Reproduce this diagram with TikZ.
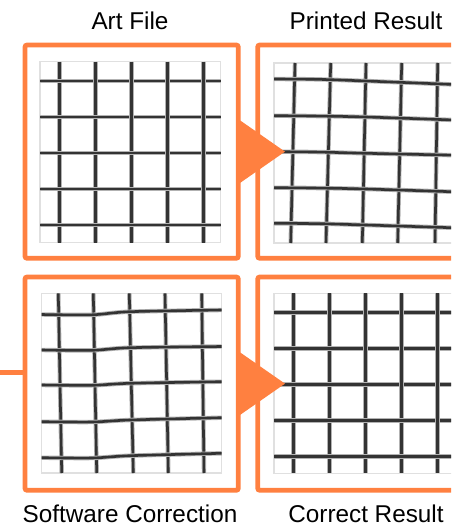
\documentclass[tikz,border=0pt]{standalone}
\usepackage{fontspec}
\setmainfont{Liberation Sans}
\usetikzlibrary{calc}
\definecolor{printorange}{RGB}{255,128,64}
\begin{document}
\begin{tikzpicture}[x=1pt, y=-1pt, font=\fontsize{24.3}{29}\selectfont,
    frame/.style={draw=printorange, line width=4.7pt, rounded corners=2pt,
      minimum width=213.3pt, minimum height=213.3pt, inner sep=0pt, outer sep=0pt},
    sheet/.style={draw=black!12, line width=1.5pt},
    gridline/.style={draw=black!80, line width=2.6pt, line cap=butt,
      preaction={draw=black!30, line width=4.4pt}},
    caption/.style={anchor=base, inner sep=0pt}]
  \useasboundingbox (0,0) rectangle (451,529);
  \clip (0,0) rectangle (451,529);
  % frames and captions
  \node[frame] (art) at (131.65,151.65) {};
  \node[frame] (printed) at (364.35,151.65) {};
  \node[frame] (soft) at (131.65,383.65) {};
  \node[frame] (correct) at (364.35,383.65) {};
  \node[caption] (artlbl) at (130,30) {Art File};
  \node[caption] (printedlbl) at (366,30) {Printed Result};
  \node[caption] (softlbl) at (130,522.3) {Software Correction};
  \node[caption] (correctlbl) at (366,522.3) {Correct Result};
  % grey sheets
  \draw[sheet] (40,61.7) rectangle (220.7,242.7) (274,63) rectangle (454,243)
    (41.7,293.3) rectangle (221.7,473) (274,293.3) rectangle (454,473.3);
  % art file: straight grid
  \foreach \k in {0,...,4} {
    \draw[gridline] (59.3+36*\k,61.7) -- (59.3+36*\k,242.7);
    \draw[gridline] (40,81+36*\k) -- (220.7,81+36*\k);
  }
  % printed result: warped grid
  \foreach \t/\b in {295/290.7, 330.7/326, 366/362.3, 401.7/397.7, 437.7/435}
    \draw[gridline] (\t,63) -- (\b,243);
  \foreach \l/\m/\r in {79/81/84.5, 115.7/117/120, 151.7/153.3/155.2, 187.7/189/191.8, 223.3/225/227.8}
    \draw[gridline] plot[smooth] coordinates {(274,\l) (320,\l+0.4) (366,\m) (454,\r)};
  % software correction: pre-warped grid
  \foreach \t/\b in {58.3/61.7, 93.3/96.7, 129.3/133.3, 165/168.3, 201.7/204}
    \draw[gridline] (\t,293.3) -- (\b,473);
  \foreach \l/\m/\r in {314.5/311.7/310, 350/347.7/346.5, 385/383.3/381.7, 421.7/420/417.7, 457.7/455.7/453.3}
    \draw[gridline] plot[smooth] coordinates {(41.7,\l) (92,\l+0.3) (130,\m) (221.7,\r)};
  % correct result: straight grid
  \foreach \k in {0,...,4} {
    \draw[gridline] (293.3+36*\k,293.3) -- (293.3+36*\k,473.3);
    \draw[gridline] (274,312.3+36*\k) -- (454,312.3+36*\k);
  }
  % arrows
  \fill[printorange] ($(art.east)+(0,-32.5)$) -- ($(art.east)+(46.7,0)$) -- ($(art.east)+(0,32.5)$) -- cycle;
  \fill[printorange] ($(soft.east)+(0,-32.5)$) -- ($(soft.east)+(46.7,0)$) -- ($(soft.east)+(0,32.5)$) -- cycle;
  \coordinate (feed) at (0,372.5);
  \draw[printorange, line width=4.7pt] (feed) -- (feed -| soft.west);
\end{tikzpicture}
\end{document}
